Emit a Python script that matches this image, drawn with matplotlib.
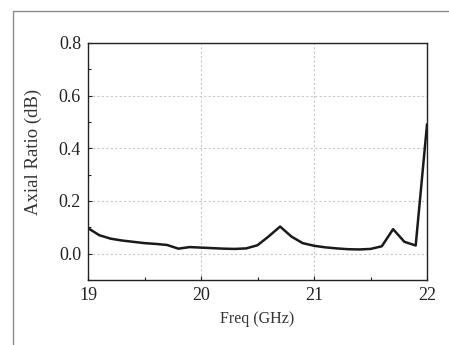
import matplotlib.pyplot as plt
from matplotlib.patches import Rectangle
from matplotlib.ticker import MultipleLocator

plt.rcParams['font.family'] = ['Liberation Serif', 'DejaVu Serif']

# axial ratio, 0.1 GHz steps
freq = [19.0, 19.1, 19.2, 19.3, 19.4, 19.5, 19.6, 19.7, 19.8, 19.9,
        20.0, 20.1, 20.2, 20.3, 20.4, 20.5, 20.6, 20.7, 20.8, 20.9,
        21.0, 21.1, 21.2, 21.3, 21.4, 21.5, 21.6, 21.7, 21.8, 21.9, 22.0]
axial_ratio = [0.097, 0.070, 0.057, 0.050, 0.045, 0.040, 0.037, 0.033, 0.019, 0.025,
               0.023, 0.021, 0.019, 0.018, 0.020, 0.032, 0.066, 0.103, 0.065, 0.040,
               0.030, 0.024, 0.020, 0.017, 0.016, 0.018, 0.028, 0.093, 0.045, 0.031, 0.490]

x_ticks = [19, 20, 21, 22]
y_ticks = [0.0, 0.2, 0.4, 0.6, 0.8]

fig = plt.figure(figsize=(4.49, 3.45), dpi=100)

# grey frame around the picture (cut off at right/bottom)
fig.patches.append(Rectangle((13 / 449, -0.1), 1.2, 1 - 11 / 345 + 0.1,
                             transform=fig.transFigure, fill=False,
                             edgecolor='#8c8c8c', linewidth=1.0))

ax = fig.add_axes([88 / 449, 65 / 345, 339 / 449, 237 / 345])
ax.plot(freq, axial_ratio, color='#1a1a1a', linewidth=1.8)

ax.set_xlim(19, 22)
ax.set_ylim(-0.1, 0.8)
ax.set_xticks(x_ticks)
ax.set_yticks(y_ticks)
ax.xaxis.set_minor_locator(MultipleLocator(0.5))
ax.yaxis.set_minor_locator(MultipleLocator(0.1))
ax.set_yticklabels(['%.1f' % v for v in y_ticks])

ax.grid(True, which='major', color='#c8c8c8', linestyle=(0, (2, 2)), linewidth=0.8)
ax.tick_params(which='both', direction='in', colors='#222222', labelsize=13)
ax.tick_params(which='major', length=3, width=0.8)
ax.tick_params(which='minor', length=2, width=0.8)
ax.tick_params(axis='x', pad=5)
ax.tick_params(axis='y', pad=5)
for s in ax.spines.values():
    s.set_linewidth(1.0)
    s.set_color('#222222')

ax.set_xlabel('Freq (GHz)', fontsize=11.5, color='#333333', labelpad=5)
ax.set_ylabel('Axial Ratio (dB)', fontsize=13.5, color='#333333', labelpad=5)
ax.yaxis.set_label_coords(-46 / 339, 0.54)

fig.savefig('out.png', dpi=100)
